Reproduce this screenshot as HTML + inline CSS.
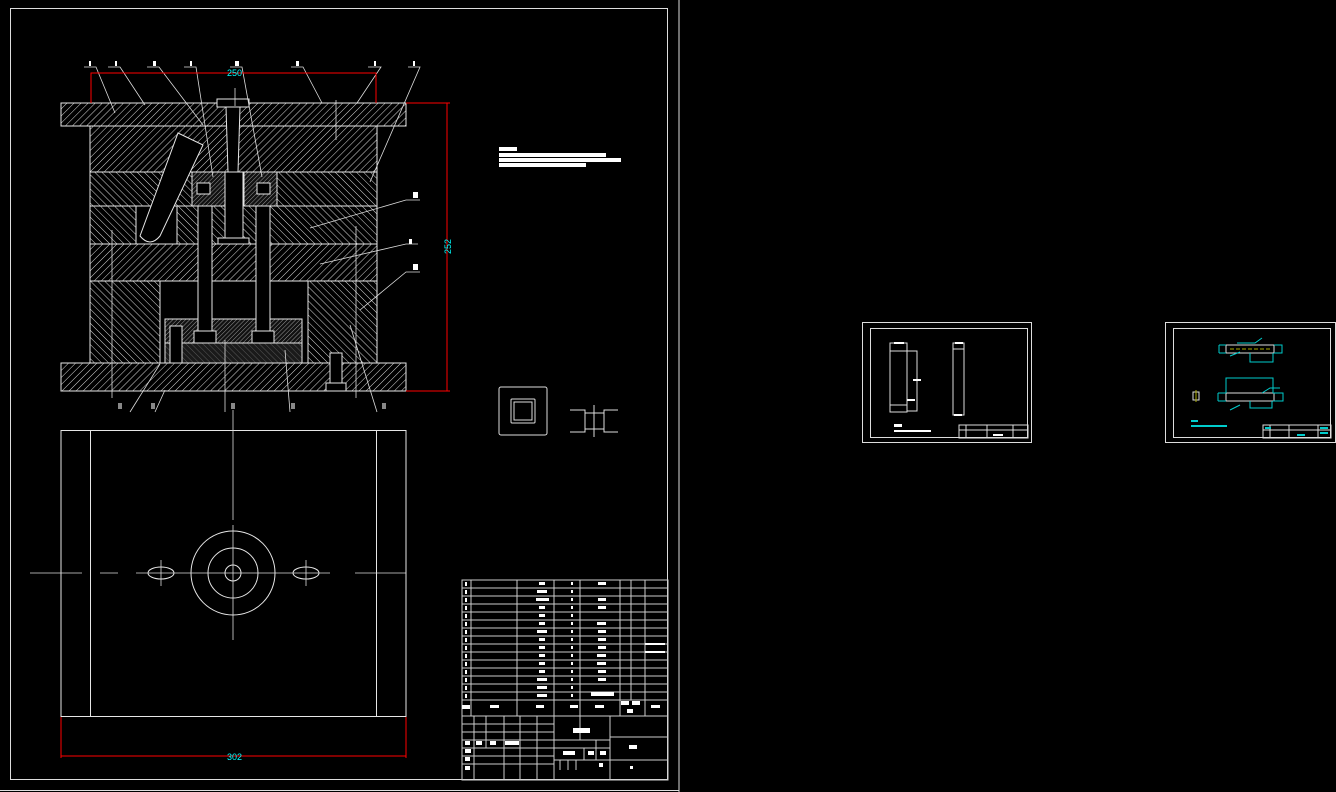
<!DOCTYPE html>
<html><head><meta charset="utf-8"><style>
html,body{margin:0;padding:0;background:#000;width:1336px;height:792px;overflow:hidden}
svg{display:block}
text{font-family:"Liberation Sans",sans-serif}
</style></head><body>
<svg width="1336" height="792" viewBox="0 0 1336 792" xmlns="http://www.w3.org/2000/svg">
<defs>
<pattern id="h" width="5" height="5" patternUnits="userSpaceOnUse" patternTransform="rotate(45)">
<rect width="5" height="5" fill="#000"/><line x1="0" y1="0" x2="0" y2="5" stroke="#d8d8d8" stroke-width="1"/></pattern>
<pattern id="h2" width="5" height="5" patternUnits="userSpaceOnUse" patternTransform="rotate(-45)">
<rect width="5" height="5" fill="#000"/><line x1="0" y1="0" x2="0" y2="5" stroke="#d8d8d8" stroke-width="1"/></pattern>
<pattern id="hf" width="3" height="3" patternUnits="userSpaceOnUse" patternTransform="rotate(45)">
<rect width="3" height="3" fill="#111"/><line x1="0" y1="0" x2="0" y2="3" stroke="#bbb" stroke-width="0.8"/></pattern>
<pattern id="hd" width="4" height="4" patternUnits="userSpaceOnUse" patternTransform="rotate(-45)">
<rect width="4" height="4" fill="#1a1a1a"/><line x1="0" y1="0" x2="0" y2="4" stroke="#666" stroke-width="0.8"/></pattern>
</defs>
<rect width="1336" height="792" fill="#000"/>
<line x1="679" y1="0" x2="679" y2="792" stroke="#ddd"/>
<line x1="0" y1="790.5" x2="679" y2="790.5" stroke="#ddd"/>
<rect x="10.5" y="8.5" width="657" height="771" fill="none" stroke="#ddd"/>

<g stroke="#e6e6e6" stroke-width="1">
<rect x="61" y="103" width="345" height="23" fill="url(#h)"/>
<rect x="90" y="126" width="287" height="46" fill="url(#h)"/>
<rect x="90" y="172" width="287" height="34" fill="url(#h2)"/>
<rect x="90" y="206" width="287" height="38" fill="url(#h2)"/>
<rect x="90" y="244" width="287" height="37" fill="url(#h)"/>
<rect x="90" y="281" width="70" height="82" fill="url(#h2)"/>
<rect x="308" y="281" width="69" height="82" fill="url(#h2)"/>
<rect x="160" y="281" width="148" height="82" fill="#000"/>
<rect x="136" y="206" width="41" height="38" fill="#000"/>
<rect x="165" y="319" width="137" height="24" fill="url(#hf)"/>
<rect x="165" y="343" width="137" height="20" fill="url(#hd)"/>
<rect x="61" y="363" width="345" height="28" fill="url(#h)"/>
<path d="M178 133 L203 145 L160 236 Q150 248 140 236 Z" fill="#000"/>
<rect x="217" y="99" width="32" height="8" fill="#000"/>
<path d="M226 107 L240 107 L238 172 L228 172 Z" fill="#000"/>
<rect x="192" y="172" width="33" height="34" fill="url(#hf)"/>
<rect x="244" y="172" width="33" height="34" fill="url(#hf)"/>
<rect x="197" y="183" width="13" height="11" fill="#000"/>
<rect x="257" y="183" width="13" height="11" fill="#000"/>
<rect x="225" y="172" width="18" height="66" fill="#000"/>
<rect x="218" y="238" width="31" height="6" fill="#000"/>
<rect x="198" y="206" width="14" height="125" fill="#000"/>
<rect x="256" y="206" width="14" height="125" fill="#000"/>
<rect x="194" y="331" width="22" height="12" fill="#000"/>
<rect x="252" y="331" width="22" height="12" fill="#000"/>
<rect x="170" y="326" width="12" height="37" fill="#000"/>
<rect x="330" y="353" width="12" height="30" fill="#000"/>
<rect x="326" y="383" width="20" height="8" fill="#000"/>
</g>
<g stroke="#ddd" stroke-width="0.8" fill="none">
<path d="M84 67 H96 L115 113"/><path d="M108 67 H120 L145 105"/><path d="M147 67 H159 L203 125"/>
<path d="M184 67 H196 L213 177"/><path d="M230 67 H242 L262 177"/><path d="M291 67 H303 L322 103"/>
<path d="M368 67 H381 L357 103"/><path d="M408 67 H420 L370 182"/>
<path d="M420 200 H406 L310 228"/><path d="M418 244 H406 L320 264"/><path d="M420 272 H406 L360 310"/>
<line x1="112" y1="230" x2="112" y2="398"/><line x1="356" y1="226" x2="356" y2="398"/>
<line x1="225" y1="340" x2="225" y2="412"/><line x1="336" y1="100" x2="336" y2="140"/>
<path d="M130 412 L160 364"/><path d="M155 412 L165 390"/><path d="M290 412 L285 350"/><path d="M377 412 L350 325"/>
<line x1="235" y1="88" x2="235" y2="106"/>
</g>
<g fill="#fff">
<rect x="89" y="61" width="2" height="5"/><rect x="115" y="61" width="2" height="5"/><rect x="153" y="61" width="3" height="5"/><rect x="190" y="61" width="2" height="5"/><rect x="235" y="61" width="4" height="5"/><rect x="296" y="61" width="3" height="5"/><rect x="374" y="61" width="2" height="5"/><rect x="413" y="61" width="2" height="5"/>
<rect x="413" y="192" width="5" height="6"/><rect x="413" y="264" width="5" height="6"/><rect x="409" y="239" width="3" height="5"/>
<rect x="118" y="403" width="4" height="6" fill="#888"/><rect x="151" y="403" width="4" height="6" fill="#888"/><rect x="231" y="403" width="4" height="6" fill="#888"/><rect x="291" y="403" width="4" height="6" fill="#888"/><rect x="382" y="403" width="4" height="6" fill="#888"/>
</g>
<g stroke="#f00" stroke-width="1" fill="none">
<path d="M91 103 V73 H376 V103"/>
<path d="M406 103 H450 M406 391 H450 M447 103 V391"/>
<path d="M61 716 V758 M406 716 V758 M61 756 H406"/>
</g>
<text x="227" y="76" fill="#0ff" font-size="9">250</text>
<text x="451" y="254" fill="#0ff" font-size="9" transform="rotate(-90 451 254)">252</text>
<text x="227" y="760" fill="#0ff" font-size="9">302</text>

<g stroke="#e6e6e6" stroke-width="1" fill="none">
<rect x="61" y="430.5" width="345" height="286"/>
<line x1="90.5" y1="430" x2="90.5" y2="716"/><line x1="376.5" y1="430" x2="376.5" y2="716"/>
<circle cx="233" cy="573" r="42"/><circle cx="233" cy="573" r="25"/><circle cx="233" cy="573" r="8"/>
<ellipse cx="161" cy="573" rx="13" ry="6"/><ellipse cx="306" cy="573" rx="13" ry="6"/>
</g>
<g stroke="#ddd" stroke-width="0.8">
<line x1="30" y1="573" x2="82" y2="573"/><line x1="100" y1="573" x2="118" y2="573"/><line x1="136" y1="573" x2="330" y2="573"/><line x1="355" y1="573" x2="406" y2="573"/>
<line x1="233" y1="410" x2="233" y2="520"/><line x1="233" y1="525" x2="233" y2="640"/>
<line x1="161" y1="560" x2="161" y2="586"/><line x1="306" y1="560" x2="306" y2="586"/>
</g>
<g fill="#fff"><rect x="499" y="147" width="18" height="4"/><rect x="499" y="153" width="107" height="4"/><rect x="499" y="158" width="122" height="4"/><rect x="499" y="163" width="87" height="4"/></g>
<g stroke="#ddd" fill="none">
<rect x="499" y="387" width="48" height="48" rx="2"/><rect x="511" y="399" width="24" height="24" rx="1"/><rect x="514" y="402" width="18" height="18"/>
<path d="M570 410 H585 V432 H570 M618 410 H604 V432 H618 M585 413 H604 M585 429 H604"/><line x1="594" y1="405" x2="594" y2="437"/>
</g>
<g stroke="#ccc" stroke-width="1" fill="none">
<rect x="462" y="580" width="206" height="200"/>
<path d="M462 588H668M462 596H668M462 604H668M462 612H668M462 620H668M462 628H668M462 636H668M462 644H668M462 652H668M462 660H668M462 668H668M462 676H668M462 684H668M462 692H668M462 700H668M462 716H668"/>
<path d="M471 580V716M517 580V716M554 580V780M580 580V740M620 580V716M631 580V700M645 580V716M610 716V780"/>
<path d="M462 724H554M462 732H554M462 740H554M462 748H554M462 756H554M462 764H554M554 740H610M554 748H610M554 760H610M610 737H668M610 760H668"/>
<path d="M474 716V780M486 716V748M504 716V780M520 716V780M537 716V780M584 748V760M596 740V760M560 760V770M568 760V770M576 760V770"/>
</g>
<g fill="#fff">
<rect x="465" y="582" width="2" height="4"/><rect x="539" y="582" width="6" height="3"/><rect x="571" y="582" width="2" height="3"/><rect x="598" y="582" width="8" height="3"/>
<rect x="465" y="590" width="2" height="4"/><rect x="537" y="590" width="10" height="3"/><rect x="571" y="590" width="2" height="3"/>
<rect x="465" y="598" width="2" height="4"/><rect x="536" y="598" width="13" height="3"/><rect x="571" y="598" width="2" height="3"/><rect x="598" y="598" width="8" height="3"/>
<rect x="465" y="606" width="2" height="4"/><rect x="539" y="606" width="6" height="3"/><rect x="571" y="606" width="2" height="3"/><rect x="598" y="606" width="8" height="3"/>
<rect x="465" y="614" width="2" height="4"/><rect x="539" y="614" width="6" height="3"/><rect x="571" y="614" width="2" height="3"/>
<rect x="465" y="622" width="2" height="4"/><rect x="539" y="622" width="6" height="3"/><rect x="571" y="622" width="2" height="3"/><rect x="597" y="622" width="9" height="3"/>
<rect x="465" y="630" width="2" height="4"/><rect x="537" y="630" width="10" height="3"/><rect x="571" y="630" width="2" height="3"/><rect x="598" y="630" width="8" height="3"/>
<rect x="465" y="638" width="2" height="4"/><rect x="539" y="638" width="6" height="3"/><rect x="571" y="638" width="2" height="3"/><rect x="598" y="638" width="8" height="3"/>
<rect x="465" y="646" width="2" height="4"/><rect x="539" y="646" width="6" height="3"/><rect x="571" y="646" width="2" height="3"/><rect x="598" y="646" width="8" height="3"/><rect x="645" y="643" width="20" height="2"/><rect x="645" y="651" width="20" height="2"/>
<rect x="465" y="654" width="2" height="4"/><rect x="539" y="654" width="6" height="3"/><rect x="571" y="654" width="2" height="3"/><rect x="597" y="654" width="9" height="3"/>
<rect x="465" y="662" width="2" height="4"/><rect x="539" y="662" width="6" height="3"/><rect x="571" y="662" width="2" height="3"/><rect x="597" y="662" width="9" height="3"/>
<rect x="465" y="670" width="2" height="4"/><rect x="539" y="670" width="6" height="3"/><rect x="571" y="670" width="2" height="3"/><rect x="598" y="670" width="8" height="3"/>
<rect x="465" y="678" width="2" height="4"/><rect x="537" y="678" width="10" height="3"/><rect x="571" y="678" width="2" height="3"/><rect x="598" y="678" width="8" height="3"/>
<rect x="465" y="686" width="2" height="4"/><rect x="537" y="686" width="10" height="3"/><rect x="571" y="686" width="2" height="3"/>
<rect x="465" y="694" width="2" height="4"/><rect x="537" y="694" width="10" height="3"/><rect x="571" y="694" width="2" height="3"/><rect x="591" y="692" width="23" height="4"/>
<rect x="462" y="705" width="8" height="4"/><rect x="490" y="705" width="9" height="3"/><rect x="536" y="705" width="8" height="3"/><rect x="570" y="705" width="8" height="3"/><rect x="595" y="705" width="9" height="3"/><rect x="621" y="701" width="8" height="4"/><rect x="632" y="701" width="8" height="4"/><rect x="627" y="709" width="6" height="4"/><rect x="651" y="705" width="9" height="3"/>
<rect x="573" y="728" width="17" height="5"/><rect x="629" y="745" width="8" height="4"/><rect x="630" y="766" width="3" height="3"/>
<rect x="465" y="741" width="5" height="4"/><rect x="476" y="741" width="6" height="4"/><rect x="490" y="741" width="6" height="4"/><rect x="505" y="741" width="14" height="4"/>
<rect x="465" y="749" width="6" height="4"/><rect x="465" y="757" width="5" height="4"/><rect x="465" y="766" width="5" height="4"/>
<rect x="563" y="751" width="12" height="4"/><rect x="588" y="751" width="6" height="4"/><rect x="600" y="751" width="6" height="4"/><rect x="599" y="763" width="4" height="4"/>
</g>

<g stroke="#ddd" fill="none" stroke-width="1">
<rect x="862.5" y="322.5" width="169" height="120"/><rect x="870.5" y="328.5" width="157" height="109"/>
<rect x="890" y="343" width="17" height="69"/><path d="M890 351 H917 V411 H907 M890 405 H907"/>
<rect x="953" y="343" width="11" height="72"/><path d="M953 349 H964"/>
<rect x="959" y="425" width="69" height="13"/><path d="M959 430H1028M966 425V438M987 425V438M1013 425V438"/>
</g>
<g fill="#fff"><rect x="894" y="424" width="8" height="3"/><rect x="894" y="430" width="37" height="2"/><rect x="894" y="342" width="10" height="2"/><rect x="955" y="342" width="8" height="2"/><rect x="913" y="379" width="8" height="2"/><rect x="907" y="399" width="8" height="2"/><rect x="954" y="414" width="8" height="2"/><rect x="993" y="434" width="10" height="2"/></g>

<g stroke="#ddd" fill="none" stroke-width="1">
<rect x="1165.5" y="322.5" width="170" height="120"/><rect x="1173.5" y="328.5" width="157" height="109"/>
<rect x="1226" y="345" width="48" height="8"/><rect x="1226" y="393" width="48" height="8"/>
<rect x="1193" y="392" width="6" height="8"/>
<rect x="1263" y="425" width="68" height="13"/><path d="M1263 430H1331M1270 425V438M1289 425V438M1318 425V438"/>
</g>
<g stroke="#0cc" fill="none" stroke-width="1">
<path d="M1219 345H1226M1219 353H1226M1219 345V353M1274 345H1282V353H1274M1250 353V362H1273V353M1237 343H1255L1262 338M1230 356L1240 352"/>
<path d="M1226 393V378H1273V393M1218 393H1226M1218 401H1226M1218 393V401M1273 393H1283V401H1273M1250 401V408H1272V401M1262 393L1270 388H1280M1240 405L1230 410"/>
<rect x="1191" y="425" width="36" height="2" fill="#0cc" stroke="none"/><rect x="1191" y="420" width="7" height="2" fill="#0cc" stroke="none"/>
</g>
<line x1="1230" y1="349" x2="1270" y2="349" stroke="#aa0" stroke-dasharray="4 2"/>
<line x1="1196" y1="390" x2="1196" y2="402" stroke="#aa0"/>
<g fill="#0cc"><rect x="1265" y="427" width="6" height="2"/><rect x="1297" y="434" width="8" height="2"/><rect x="1320" y="427" width="8" height="2"/><rect x="1320" y="432" width="8" height="2"/></g>
</svg>
</body></html>
